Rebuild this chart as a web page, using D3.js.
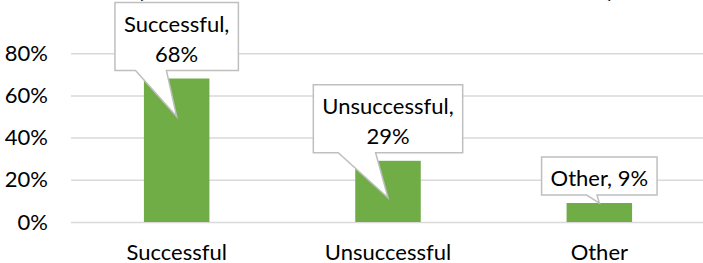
<!DOCTYPE html>
<html>
<head>
<meta charset="utf-8">
<script src="https://cdn.jsdelivr.net/npm/d3@7"></script>
<style>
  html, body { margin: 0; padding: 0; background: #fff; }
  svg { display: block; font-family: Lato, "Open Sans", sans-serif; }
</style>
</head>
<body>
<svg id="chart" width="703" height="263"></svg>
<script>
var categories = ['Successful', 'Unsuccessful', 'Other']
var values = [0.68, 0.29, 0.09]
var yTicks = [0, 0.2, 0.4, 0.6, 0.8]
var calloutLabels = [['Successful,', '68%'], ['Unsuccessful,', '29%'], ['Other, 9%']]
var titleMarks = ['(', ')']

// where each callout's wedge meets the box edge (fraction of box width)
// and how far below the bar top the tip sits
var calloutWedge = [
  { from: 0.167, to: 0.417, tipDy: 38 }
, { from: 0.167, to: 0.417, tipDy: 37 }
, { from: 0.39,  to: 0.48,  tipDy: 0 }
]

var svg = d3.select('#chart')
var W = 703, H = 263
var fontSize = 22

var x = d3.scaleBand().domain(categories).range([71, 705])
  .paddingInner(0.69).paddingOuter(0.345)
var y = d3.scaleLinear().domain([0, 1]).range([222, 11])

// title, mostly cut off above the picture
svg.selectAll('text.title').data(titleMarks).enter().append('text')
  .attr('class', 'title')
  .attr('x', function (d, i) { return i === 0 ? 137 : 607 })
  .attr('y', -3)
  .attr('font-size', 26).attr('font-weight', 'bold').attr('fill', '#000')
  .text(function (d) { return d })

// gridlines + y labels
var yAxis = d3.axisLeft(y).tickValues(yTicks).tickSize(-(W - 71))
  .tickPadding(23).tickFormat(d3.format('.0%'))
var gy = svg.append('g').attr('transform', 'translate(71,0)').call(yAxis)
gy.select('.domain').remove()
gy.selectAll('.tick line').attr('stroke', '#d9d9d9').attr('stroke-width', 1.5)
gy.selectAll('.tick text').attr('font-size', fontSize).attr('fill', '#000')
  .attr('font-family', 'Lato, sans-serif')

// bars
svg.selectAll('rect.bar').data(values).enter().append('rect')
  .attr('class', 'bar')
  .attr('x', function (d, i) { return x(categories[i]) })
  .attr('y', function (d) { return y(d) })
  .attr('width', x.bandwidth())
  .attr('height', function (d) { return y(0) - y(d) })
  .attr('fill', '#70ad47')

// category labels
var xAxis = d3.axisBottom(x).tickSize(0).tickPadding(22)
var gx = svg.append('g').attr('transform', 'translate(0,' + y(0) + ')').call(xAxis)
gx.select('.domain').remove()
gx.selectAll('.tick text').attr('font-size', fontSize).attr('fill', '#000')
  .attr('font-family', 'Lato, sans-serif')

// callouts
var lineH = 30, padX = 9
values.forEach(function (v, i) {
  var cx = x(categories[i]) + x.bandwidth() / 2
  var top = y(v)
  var lines = calloutLabels[i]
  var g = svg.append('g').attr('class', 'callout')

  var txt = g.append('text').attr('text-anchor', 'middle')
    .attr('font-size', fontSize).attr('fill', '#000')
  lines.forEach(function (s, j) {
    txt.append('tspan').attr('x', cx).attr('y', 0).text(s)
  })
  var tw = d3.max(txt.selectAll('tspan').nodes(), function (n) { return n.getComputedTextLength() })

  var bw = tw + padX * 2
  var bh = lines.length * lineH + 8
  var bx = cx - bw / 2
  var by = top - 8 - bh
  var w = calloutWedge[i]
  var tipY = top + w.tipDy

  var path = d3.path()
  path.moveTo(bx, by)
  path.lineTo(bx + bw, by)
  path.lineTo(bx + bw, by + bh)
  path.lineTo(bx + bw * w.to, by + bh)
  path.lineTo(cx, tipY)
  path.lineTo(bx + bw * w.from, by + bh)
  path.lineTo(bx, by + bh)
  path.closePath()

  g.insert('path', 'text').attr('d', path.toString())
    .attr('fill', '#fff').attr('stroke', '#bfbfbf').attr('stroke-width', 1.5)

  txt.selectAll('tspan').attr('y', function (d, j) { return by + 29 + j * lineH })
})
</script>
</body>
</html>
